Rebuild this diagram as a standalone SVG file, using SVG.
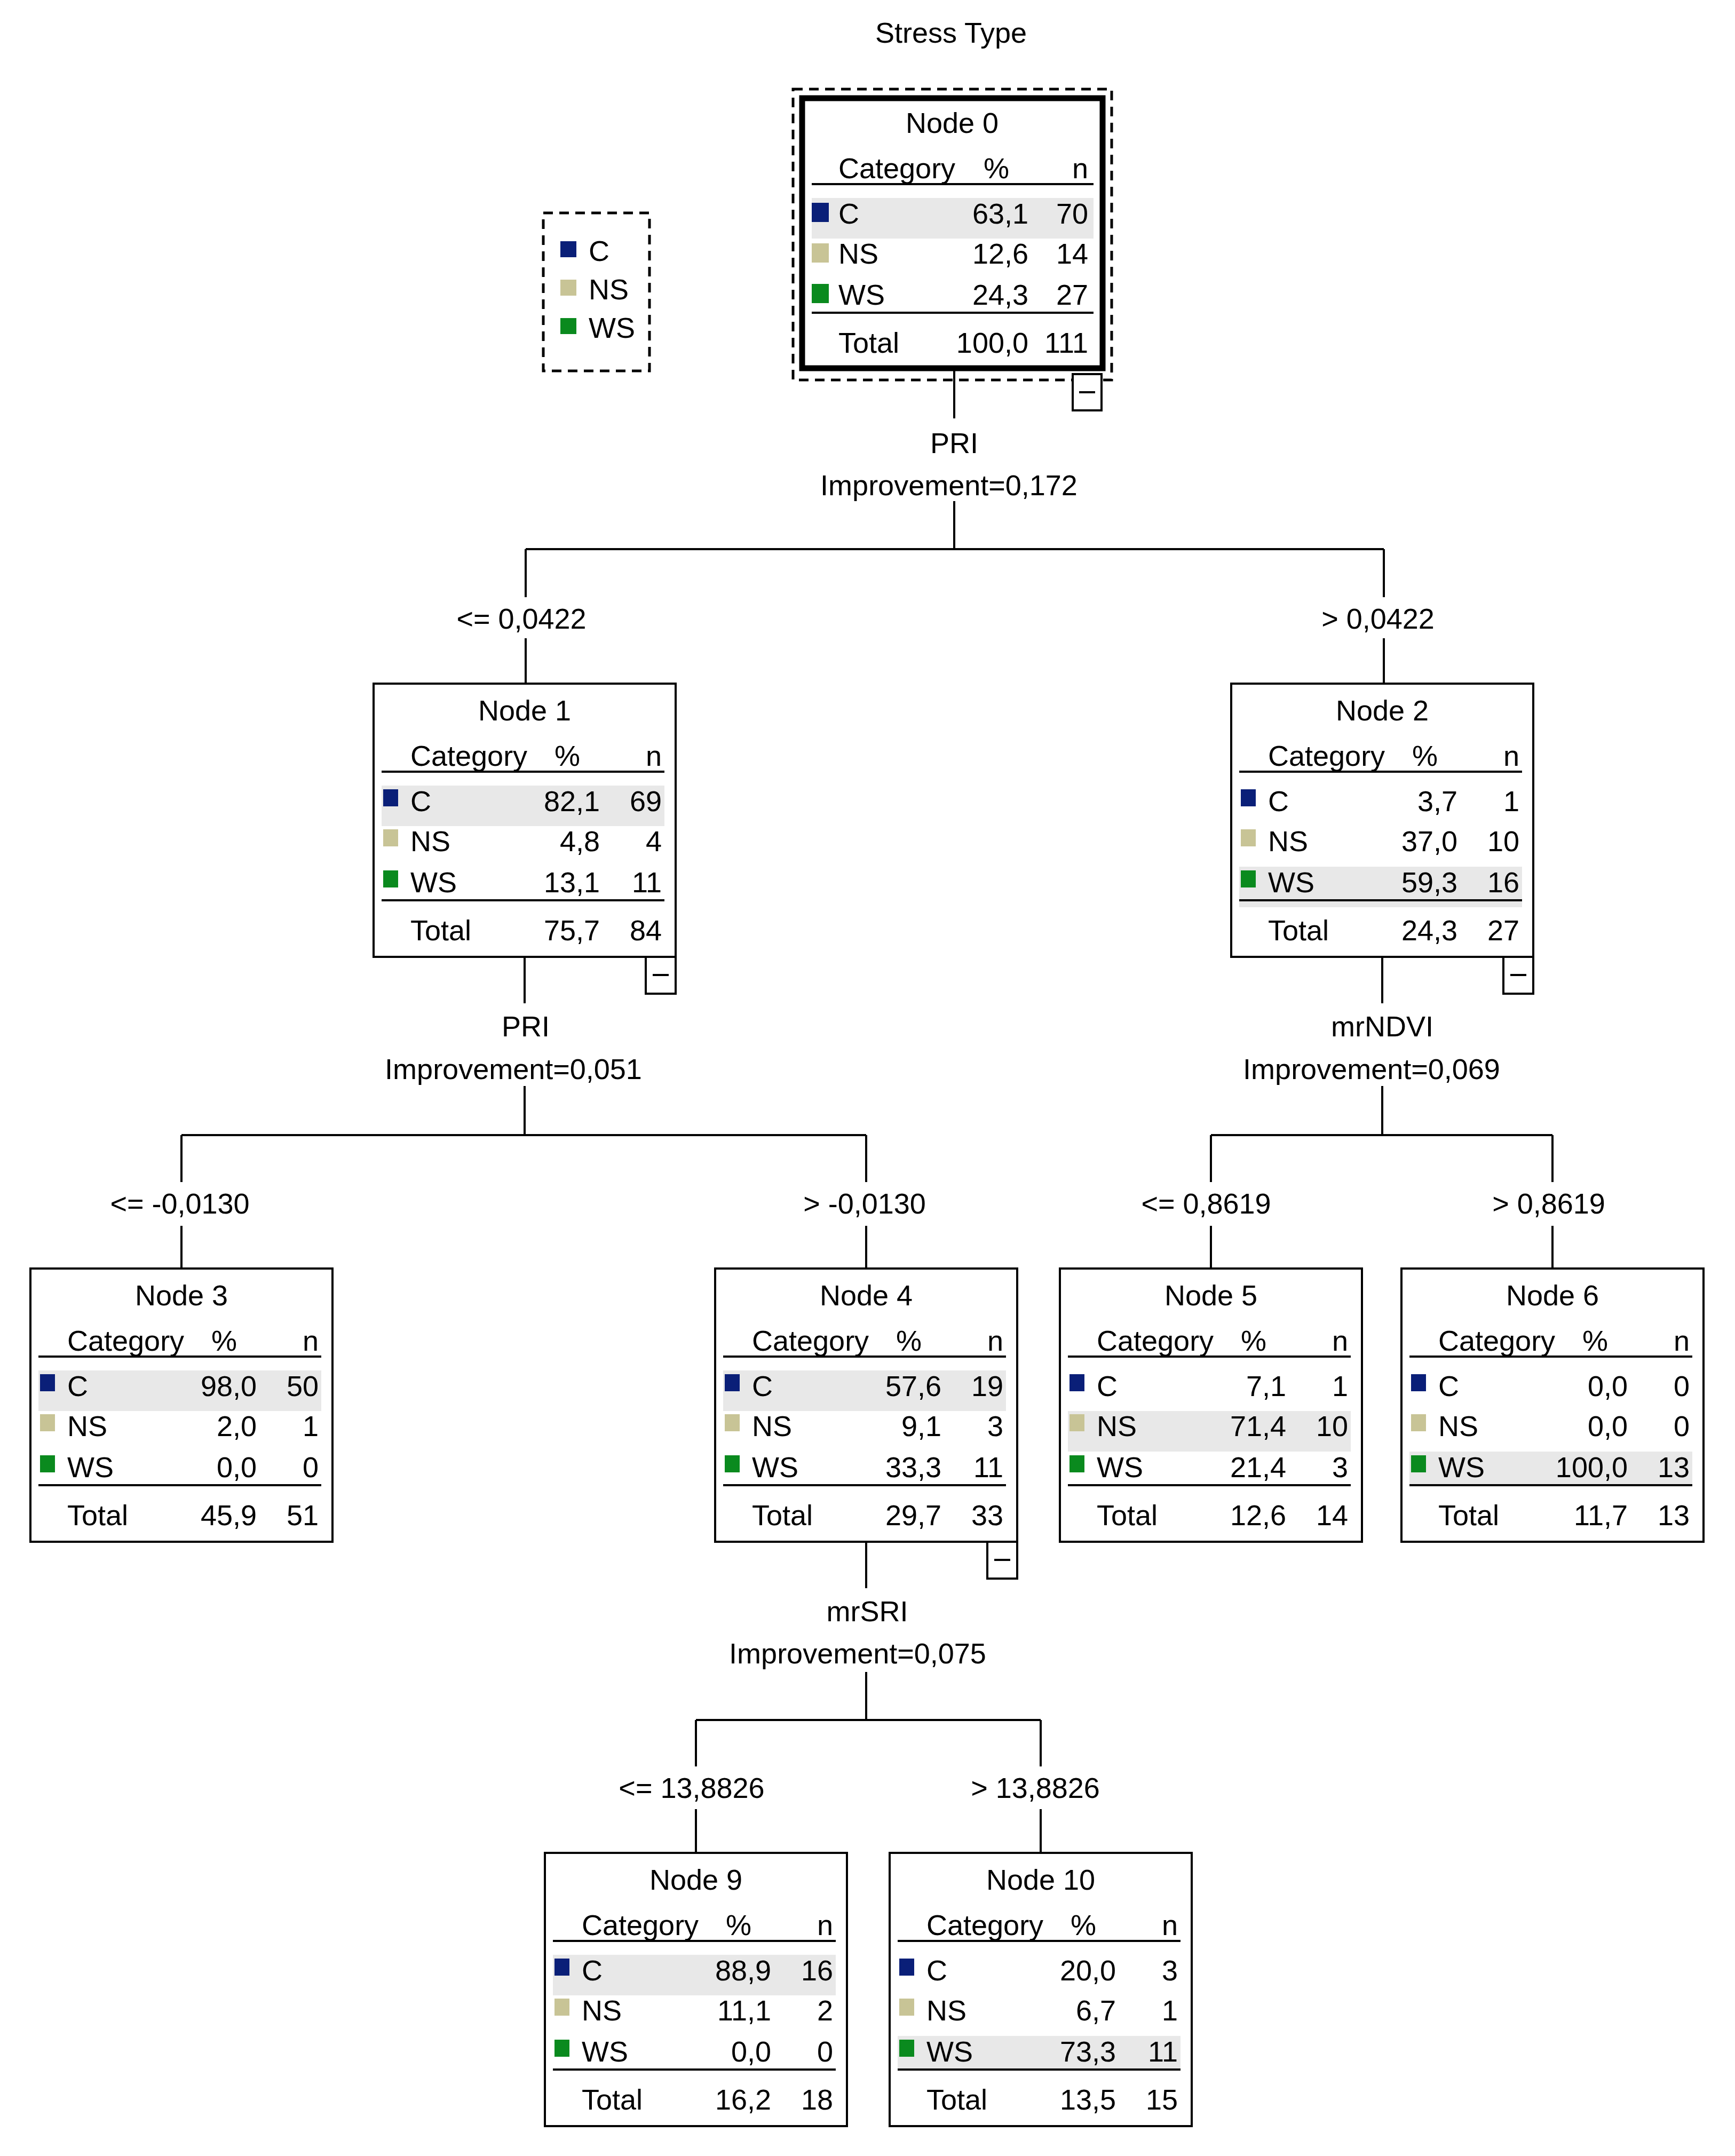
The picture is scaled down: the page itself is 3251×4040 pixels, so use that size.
<svg xmlns="http://www.w3.org/2000/svg" width="3251" height="4040" viewBox="0 0 3251 4040">
<style>
text{font-family:"Liberation Sans",Arial,sans-serif;font-size:54px;fill:#000}
.m{text-anchor:middle}.r{text-anchor:end}
.box{fill:#fff;stroke:#000;stroke-width:4}
.thick{fill:#fff;stroke:#000;stroke-width:11}
.ln{stroke:#000;stroke-width:4;fill:none}
.band{fill:#e8e8e8}
.c{fill:#0a1f78}.ns{fill:#c8c496}.ws{fill:#0a8a1e}
.dash{fill:none;stroke:#000;stroke-width:5;stroke-dasharray:18 12}
.col{fill:#fff;stroke:#000;stroke-width:4}
</style>
<rect width="3251" height="4040" fill="#fff"/>
<text class="m" x="1782" y="80">Stress Type</text>
<g id="legend">
<rect class="dash" x="1018" y="399" width="199" height="296"/>
<rect class="c" x="1050" y="452" width="30" height="30"/><text x="1103" y="489">C</text>
<rect class="ns" x="1050" y="524" width="30" height="30"/><text x="1103" y="561">NS</text>
<rect class="ws" x="1050" y="596" width="30" height="30"/><text x="1103" y="633">WS</text>
</g>
<g id="connectors">
<path class="ln" d="M1788 694V784M1788 939V1029M985 1029H2593M985 1029V1119M2593 1029V1119M985 1196V1281M2593 1196V1281"/>
<path class="ln" d="M983 1793V1880M983 2035V2127M340 2127H1623M340 2127V2215M1623 2127V2215M340 2297V2377M1623 2297V2377"/>
<path class="ln" d="M2590 1793V1880M2590 2035V2127M2269 2127H2909M2269 2127V2215M2909 2127V2215M2269 2297V2377M2909 2297V2377"/>
<path class="ln" d="M1623 2889V2976M1623 3133V3223M1304 3223H1950M1304 3223V3310M1950 3223V3310M1304 3390V3472M1950 3390V3472"/>
<text class="m" x="1788" y="849">PRI</text><text class="m" x="1778" y="928">Improvement=0,172</text>
<text class="m" x="977" y="1178">&lt;= 0,0422</text><text class="m" x="2582" y="1178">&gt; 0,0422</text>
<text class="m" x="985" y="1942">PRI</text><text class="m" x="962" y="2022">Improvement=0,051</text>
<text class="m" x="2590" y="1942">mrNDVI</text><text class="m" x="2570" y="2022">Improvement=0,069</text>
<text class="m" x="337" y="2274">&lt;= -0,0130</text><text class="m" x="1620" y="2274">&gt; -0,0130</text>
<text class="m" x="2260" y="2274">&lt;= 0,8619</text><text class="m" x="2902" y="2274">&gt; 0,8619</text>
<text class="m" x="1625" y="3038">mrSRI</text><text class="m" x="1607" y="3117">Improvement=0,075</text>
<text class="m" x="1296" y="3369">&lt;= 13,8826</text><text class="m" x="1940" y="3369">&gt; 13,8826</text>
</g>
<g id="node0">
<rect class="dash" x="1486" y="167" width="597" height="545"/>
<rect class="thick" x="1503" y="184" width="563" height="506"/>
<rect class="col" x="2010" y="701" width="54" height="68"/><path class="ln" d="M2022 735H2052"/>
<g transform="translate(1499,180)">
<text class="m" x="285" y="69">Node 0</text>
<text x="72" y="154">Category</text><text class="m" x="368" y="154">%</text><text class="r" x="540" y="154">n</text>
<path class="ln" d="M22 165H550M22 406H550"/>
<rect class="band" x="22" y="191" width="528" height="76"/>
<rect class="c" x="22" y="200" width="32" height="36"/><text x="72" y="239">C</text><text class="r" x="428" y="239">63,1</text><text class="r" x="540" y="239">70</text>
<rect class="ns" x="22" y="276" width="32" height="36"/><text x="72" y="314">NS</text><text class="r" x="428" y="314">12,6</text><text class="r" x="540" y="314">14</text>
<rect class="ws" x="22" y="352" width="32" height="36"/><text x="72" y="391">WS</text><text class="r" x="428" y="391">24,3</text><text class="r" x="540" y="391">27</text>
<text x="72" y="481">Total</text><text class="r" x="428" y="481">100,0</text><text class="r" x="540" y="481">111</text>
</g>
</g>
<g id="node1" transform="translate(700,1281)">
<rect class="box" x="0" y="0" width="566" height="512"/>
<rect class="col" x="510" y="512" width="56" height="69"/><path class="ln" d="M523 546H553"/>
<text class="m" x="283" y="69">Node 1</text>
<text x="69" y="154">Category</text><text class="m" x="363" y="154">%</text><text class="r" x="540" y="154">n</text>
<path class="ln" d="M15 165H545M15 406H545"/>
<rect class="band" x="15" y="191" width="530" height="76"/>
<rect class="c" x="18" y="198" width="28" height="32"/><text x="69" y="239">C</text><text class="r" x="424" y="239">82,1</text><text class="r" x="540" y="239">69</text>
<rect class="ns" x="18" y="273" width="28" height="32"/><text x="69" y="314">NS</text><text class="r" x="424" y="314">4,8</text><text class="r" x="540" y="314">4</text>
<rect class="ws" x="18" y="350" width="28" height="32"/><text x="69" y="391">WS</text><text class="r" x="424" y="391">13,1</text><text class="r" x="540" y="391">11</text>
<text x="69" y="481">Total</text><text class="r" x="424" y="481">75,7</text><text class="r" x="540" y="481">84</text>
</g>
<g id="node2" transform="translate(2307,1281)">
<rect class="box" x="0" y="0" width="566" height="512"/>
<rect class="col" x="510" y="512" width="56" height="69"/><path class="ln" d="M523 546H553"/>
<text class="m" x="283" y="69">Node 2</text>
<text x="69" y="154">Category</text><text class="m" x="363" y="154">%</text><text class="r" x="540" y="154">n</text>
<path class="ln" d="M15 165H545M15 406H545"/>
<rect class="band" x="15" y="343" width="530" height="76"/>
<rect class="c" x="18" y="198" width="28" height="32"/><text x="69" y="239">C</text><text class="r" x="424" y="239">3,7</text><text class="r" x="540" y="239">1</text>
<rect class="ns" x="18" y="273" width="28" height="32"/><text x="69" y="314">NS</text><text class="r" x="424" y="314">37,0</text><text class="r" x="540" y="314">10</text>
<rect class="ws" x="18" y="350" width="28" height="32"/><text x="69" y="391">WS</text><text class="r" x="424" y="391">59,3</text><text class="r" x="540" y="391">16</text>
<path class="ln" d="M15 406H545"/>
<text x="69" y="481">Total</text><text class="r" x="424" y="481">24,3</text><text class="r" x="540" y="481">27</text>
</g>
<g id="node3" transform="translate(57,2377)">
<rect class="box" x="0" y="0" width="566" height="512"/>
<text class="m" x="283" y="69">Node 3</text>
<text x="69" y="154">Category</text><text class="m" x="363" y="154">%</text><text class="r" x="540" y="154">n</text>
<path class="ln" d="M15 165H545M15 406H545"/>
<rect class="band" x="15" y="191" width="530" height="76"/>
<rect class="c" x="18" y="198" width="28" height="32"/><text x="69" y="239">C</text><text class="r" x="424" y="239">98,0</text><text class="r" x="540" y="239">50</text>
<rect class="ns" x="18" y="273" width="28" height="32"/><text x="69" y="314">NS</text><text class="r" x="424" y="314">2,0</text><text class="r" x="540" y="314">1</text>
<rect class="ws" x="18" y="350" width="28" height="32"/><text x="69" y="391">WS</text><text class="r" x="424" y="391">0,0</text><text class="r" x="540" y="391">0</text>
<text x="69" y="481">Total</text><text class="r" x="424" y="481">45,9</text><text class="r" x="540" y="481">51</text>
</g>
<g id="node4" transform="translate(1340,2377)">
<rect class="box" x="0" y="0" width="566" height="512"/>
<rect class="col" x="510" y="512" width="56" height="69"/><path class="ln" d="M523 546H553"/>
<text class="m" x="283" y="69">Node 4</text>
<text x="69" y="154">Category</text><text class="m" x="363" y="154">%</text><text class="r" x="540" y="154">n</text>
<path class="ln" d="M15 165H545M15 406H545"/>
<rect class="band" x="15" y="191" width="530" height="76"/>
<rect class="c" x="18" y="198" width="28" height="32"/><text x="69" y="239">C</text><text class="r" x="424" y="239">57,6</text><text class="r" x="540" y="239">19</text>
<rect class="ns" x="18" y="273" width="28" height="32"/><text x="69" y="314">NS</text><text class="r" x="424" y="314">9,1</text><text class="r" x="540" y="314">3</text>
<rect class="ws" x="18" y="350" width="28" height="32"/><text x="69" y="391">WS</text><text class="r" x="424" y="391">33,3</text><text class="r" x="540" y="391">11</text>
<text x="69" y="481">Total</text><text class="r" x="424" y="481">29,7</text><text class="r" x="540" y="481">33</text>
</g>
<g id="node5" transform="translate(1986,2377)">
<rect class="box" x="0" y="0" width="566" height="512"/>
<text class="m" x="283" y="69">Node 5</text>
<text x="69" y="154">Category</text><text class="m" x="363" y="154">%</text><text class="r" x="540" y="154">n</text>
<path class="ln" d="M15 165H545M15 406H545"/>
<rect class="band" x="15" y="267" width="530" height="76"/>
<rect class="c" x="18" y="198" width="28" height="32"/><text x="69" y="239">C</text><text class="r" x="424" y="239">7,1</text><text class="r" x="540" y="239">1</text>
<rect class="ns" x="18" y="273" width="28" height="32"/><text x="69" y="314">NS</text><text class="r" x="424" y="314">71,4</text><text class="r" x="540" y="314">10</text>
<rect class="ws" x="18" y="350" width="28" height="32"/><text x="69" y="391">WS</text><text class="r" x="424" y="391">21,4</text><text class="r" x="540" y="391">3</text>
<text x="69" y="481">Total</text><text class="r" x="424" y="481">12,6</text><text class="r" x="540" y="481">14</text>
</g>
<g id="node6" transform="translate(2626,2377)">
<rect class="box" x="0" y="0" width="566" height="512"/>
<text class="m" x="283" y="69">Node 6</text>
<text x="69" y="154">Category</text><text class="m" x="363" y="154">%</text><text class="r" x="540" y="154">n</text>
<path class="ln" d="M15 165H545"/>
<rect class="band" x="15" y="343" width="530" height="62"/>
<path class="ln" d="M15 406H545"/>
<rect class="c" x="18" y="198" width="28" height="32"/><text x="69" y="239">C</text><text class="r" x="424" y="239">0,0</text><text class="r" x="540" y="239">0</text>
<rect class="ns" x="18" y="273" width="28" height="32"/><text x="69" y="314">NS</text><text class="r" x="424" y="314">0,0</text><text class="r" x="540" y="314">0</text>
<rect class="ws" x="18" y="350" width="28" height="32"/><text x="69" y="391">WS</text><text class="r" x="424" y="391">100,0</text><text class="r" x="540" y="391">13</text>
<text x="69" y="481">Total</text><text class="r" x="424" y="481">11,7</text><text class="r" x="540" y="481">13</text>
</g>
<g id="node9" transform="translate(1021,3472)">
<rect class="box" x="0" y="0" width="566" height="512"/>
<text class="m" x="283" y="69">Node 9</text>
<text x="69" y="154">Category</text><text class="m" x="363" y="154">%</text><text class="r" x="540" y="154">n</text>
<path class="ln" d="M15 165H545M15 406H545"/>
<rect class="band" x="15" y="191" width="530" height="76"/>
<rect class="c" x="18" y="198" width="28" height="32"/><text x="69" y="239">C</text><text class="r" x="424" y="239">88,9</text><text class="r" x="540" y="239">16</text>
<rect class="ns" x="18" y="273" width="28" height="32"/><text x="69" y="314">NS</text><text class="r" x="424" y="314">11,1</text><text class="r" x="540" y="314">2</text>
<rect class="ws" x="18" y="350" width="28" height="32"/><text x="69" y="391">WS</text><text class="r" x="424" y="391">0,0</text><text class="r" x="540" y="391">0</text>
<text x="69" y="481">Total</text><text class="r" x="424" y="481">16,2</text><text class="r" x="540" y="481">18</text>
</g>
<g id="node10" transform="translate(1667,3472)">
<rect class="box" x="0" y="0" width="566" height="512"/>
<text class="m" x="283" y="69">Node 10</text>
<text x="69" y="154">Category</text><text class="m" x="363" y="154">%</text><text class="r" x="540" y="154">n</text>
<path class="ln" d="M15 165H545"/>
<rect class="band" x="15" y="343" width="530" height="62"/>
<path class="ln" d="M15 406H545"/>
<rect class="c" x="18" y="198" width="28" height="32"/><text x="69" y="239">C</text><text class="r" x="424" y="239">20,0</text><text class="r" x="540" y="239">3</text>
<rect class="ns" x="18" y="273" width="28" height="32"/><text x="69" y="314">NS</text><text class="r" x="424" y="314">6,7</text><text class="r" x="540" y="314">1</text>
<rect class="ws" x="18" y="350" width="28" height="32"/><text x="69" y="391">WS</text><text class="r" x="424" y="391">73,3</text><text class="r" x="540" y="391">11</text>
<text x="69" y="481">Total</text><text class="r" x="424" y="481">13,5</text><text class="r" x="540" y="481">15</text>
</g>
</svg>
